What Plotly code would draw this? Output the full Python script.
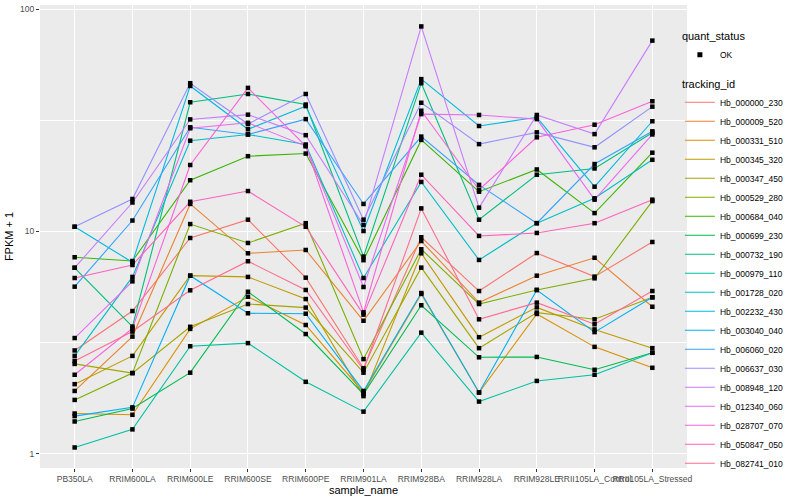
import plotly.graph_objects as go

samples = ["PB350LA", "RRIM600LA", "RRIM600LE", "RRIM600SE", "RRIM600PE", "RRIM901LA",
           "RRIM928BA", "RRIM928LA", "RRIM928LE", "RRII105LA_Control", "RRII105LA_Stressed"]

# FPKM + 1 per gene, one value per sample
hb_000000_230 = [2.92, 4.39, 9.35, 11.3, 6.20, 2.43, 9.42, 5.40, 8.00, 6.27, 8.97]
hb_000009_520 = [1.92, 3.37, 13.3, 7.98, 8.26, 3.97, 9.06, 4.79, 6.33, 7.62, 4.59]
hb_000331_510 = [1.52, 1.50, 3.65, 5.09, 3.80, 1.89, 5.24, 1.89, 4.26, 3.03, 2.44]
hb_000345_320 = [2.06, 2.76, 6.33, 6.25, 4.97, 1.82, 7.98, 3.35, 4.56, 3.63, 2.99]
hb_000347_450 = [2.54, 2.31, 3.73, 4.72, 4.55, 2.32, 6.88, 2.99, 4.32, 4.03, 5.06]
hb_000529_280 = [1.75, 2.31, 10.8, 8.88, 10.9, 2.67, 8.32, 4.72, 5.46, 6.16, 13.7]
hb_000684_040 = [7.66, 7.37, 17.0, 21.8, 22.4, 7.43, 25.8, 15.1, 19.0, 12.1, 22.6]
hb_000699_230 = [1.40, 1.60, 2.32, 5.36, 3.46, 1.86, 4.66, 2.72, 2.73, 2.39, 2.85]
hb_000732_190 = [6.87, 3.74, 38.1, 41.5, 37.2, 7.71, 46.4, 11.3, 18.0, 19.2, 27.8]
hb_000979_110 = [1.07, 1.29, 3.05, 3.15, 2.11, 1.55, 3.51, 1.72, 2.13, 2.27, 2.85]
hb_001728_020 = [2.76, 6.25, 25.6, 27.3, 24.6, 6.18, 16.7, 7.45, 10.9, 14.1, 21.0]
hb_002232_430 = [10.5, 7.27, 45.1, 28.8, 36.6, 10.05, 48.4, 29.8, 32.6, 15.9, 31.3]
hb_003040_040 = [1.48, 1.62, 6.33, 4.29, 4.27, 1.92, 5.29, 1.89, 5.46, 3.53, 5.06]
hb_006060_020 = [5.65, 11.2, 29.4, 27.3, 32.0, 13.3, 26.7, 16.2, 10.9, 20.1, 28.2]
hb_006637_030 = [10.5, 14.0, 46.4, 30.4, 41.5, 11.3, 37.9, 24.7, 27.9, 23.9, 36.4]
hb_008948_120 = [6.87, 13.5, 31.9, 33.5, 27.1, 10.7, 83.5, 12.8, 33.4, 27.4, 72.1]
hb_012340_060 = [3.32, 5.97, 29.1, 30.8, 24.2, 5.63, 33.7, 33.4, 32.0, 13.9, 27.3]
hb_028707_070 = [2.27, 3.67, 19.9, 44.2, 24.2, 4.33, 34.9, 15.4, 26.5, 30.2, 38.5]
hb_050847_050 = [6.18, 7.07, 13.6, 15.2, 10.5, 4.23, 18.0, 9.55, 9.85, 10.9, 13.9]
hb_082741_010 = [2.62, 3.55, 5.44, 7.35, 5.46, 2.39, 12.7, 4.03, 4.79, 3.83, 5.40]

tracking_ids = ["Hb_000000_230", "Hb_000009_520", "Hb_000331_510", "Hb_000345_320",
                "Hb_000347_450", "Hb_000529_280", "Hb_000684_040", "Hb_000699_230",
                "Hb_000732_190", "Hb_000979_110", "Hb_001728_020", "Hb_002232_430",
                "Hb_003040_040", "Hb_006060_020", "Hb_006637_030", "Hb_008948_120",
                "Hb_012340_060", "Hb_028707_070", "Hb_050847_050", "Hb_082741_010"]
series = [hb_000000_230, hb_000009_520, hb_000331_510, hb_000345_320, hb_000347_450,
          hb_000529_280, hb_000684_040, hb_000699_230, hb_000732_190, hb_000979_110,
          hb_001728_020, hb_002232_430, hb_003040_040, hb_006060_020, hb_006637_030,
          hb_008948_120, hb_012340_060, hb_028707_070, hb_050847_050, hb_082741_010]
colors = ["#F8766D", "#EA8331", "#D89000", "#C09B00", "#A3A500", "#7CAE00", "#39B600",
          "#00BB4E", "#00BF7D", "#00C1A3", "#00BFC4", "#00BAE0", "#00B0F6", "#35A2FF",
          "#9590FF", "#C77CFF", "#E76BF3", "#FA62DB", "#FF62BC", "#FF6C91"]
status_labels = ["OK"]

fig = go.Figure()
for name, vals, col in zip(tracking_ids, series, colors):
    fig.add_trace(go.Scatter(x=samples, y=vals, mode="lines", name=name,
                             line=dict(color=col, width=1.1), legend="legend"))

# points on top of all lines
all_x = [s for vals in series for s in samples]
all_y = [v for vals in series for v in vals]
fig.add_trace(go.Scatter(x=all_x, y=all_y, mode="markers", showlegend=False,
                         marker=dict(color="black", size=4.5, symbol="square")))

fig.add_trace(go.Scatter(x=[None], y=[None], mode="markers", name=status_labels[0],
                         marker=dict(color="black", size=5, symbol="square"),
                         legend="legend2"))

font_fam = "Liberation Sans, Arial, sans-serif"
fig.update_layout(
    width=800, height=500,
    margin=dict(l=40, r=113, t=5, b=32, autoexpand=False),
    paper_bgcolor="white", plot_bgcolor="#EBEBEB",
    font=dict(family=font_fam, size=9, color="#4D4D4D"),
    xaxis=dict(type="category", range=[-0.6, 10.6], tickangle=0, showgrid=True,
               gridcolor="white", gridwidth=1.1, ticks="outside", ticklen=3,
               tickcolor="#333333", tickfont=dict(size=8.5, color="#4D4D4D"),
               title=dict(text="sample_name", font=dict(size=11, color="black"), standoff=0),
               zeroline=False, showline=False, automargin=False),
    yaxis=dict(type="log", range=[-0.063, 2.018], tickvals=[1, 10, 100],
               ticktext=["1", "10", "100"], showgrid=True, gridcolor="white",
               gridwidth=1.1, ticks="outside", ticklen=3, tickcolor="#333333",
               tickfont=dict(size=8.5, color="#4D4D4D"),
               minor=dict(tickmode="array", tickvals=[3.1623, 31.623], showgrid=True,
                          gridcolor="white", gridwidth=0.5, ticks=""),
               title=dict(text="FPKM + 1", font=dict(size=11, color="black"), standoff=4),
               zeroline=False, showline=False, automargin=False),
    legend=dict(title=dict(text="tracking_id", font=dict(size=11, color="black")),
                x=0.989, y=0.852, xanchor="left", yanchor="top",
                font=dict(size=8.5, color="black"), bgcolor="rgba(0,0,0,0)",
                itemwidth=30, tracegroupgap=0),
    legend2=dict(title=dict(text="quant_status", font=dict(size=11, color="black")),
                 x=0.989, y=0.955, xanchor="left", yanchor="top",
                 font=dict(size=8.5, color="black"), bgcolor="rgba(0,0,0,0)", itemwidth=30),
)

fig.write_html("out.html", config={"displayModeBar": False},
               post_script="document.body.style.margin='0';")
